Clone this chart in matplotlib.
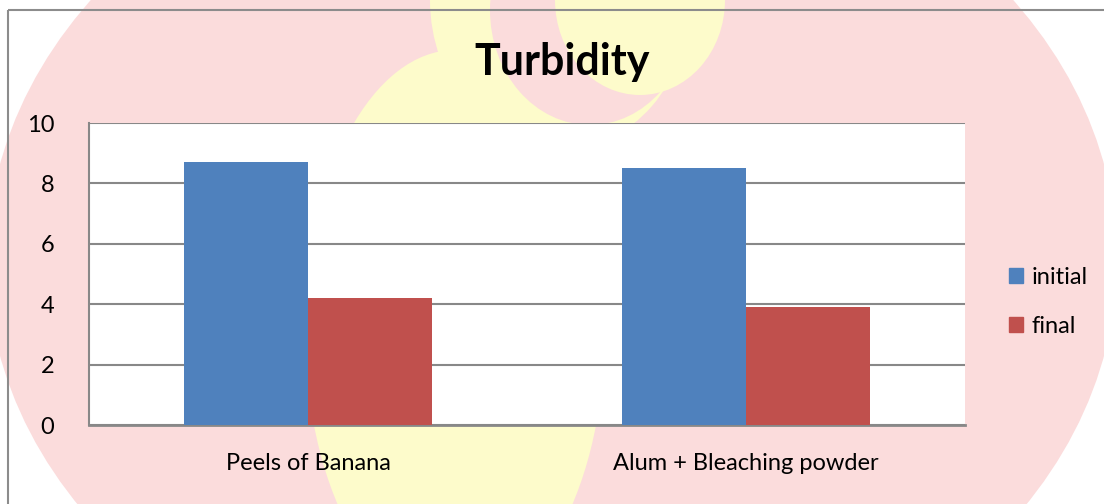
import matplotlib
matplotlib.use("Agg")
import matplotlib.pyplot as plt
import numpy as np
from matplotlib.patches import Ellipse, Rectangle, Patch

categories = ["Peels of Banana", "Alum + Bleaching powder"]
series_names = ["initial", "final"]
initial = [8.7, 8.5]
final = [4.2, 3.9]
yticks = [0, 2, 4, 6, 8, 10]
colors = ["#4F81BD", "#C0504D"]

plt.rcParams['font.family'] = ['Lato', 'DejaVu Sans']

W, H = 1104, 504
fig = plt.figure(figsize=(W / 100, H / 100), dpi=100)
fig.patch.set_facecolor("white")

def fx(px):
    return px / W

def fy(py):
    return 1 - py / H

# faint watermark-like background (decoration)
bg = fig.add_axes([0, 0, 1, 1], zorder=-10)
bg.set_xlim(0, W)
bg.set_ylim(H, 0)
bg.axis("off")
bg.add_patch(Ellipse((552, 260), 1130, 900, color="#fbdcdc", lw=0))
bg.add_patch(Ellipse((455, 330), 300, 560, color="#fdfbcb", lw=0))
bg.add_patch(Ellipse((560, 0), 260, 300, color="#fdfbcb", lw=0))
bg.add_patch(Ellipse((590, 10), 200, 230, color="#fbdcdc", lw=0))
bg.add_patch(Ellipse((640, 0), 170, 190, color="#fdfbcb", lw=0))
bg.add_patch(Rectangle((8, 10), W, H, fill=False, ec="#8c8c8c", lw=1.5))

ax = fig.add_axes([fx(89), fy(425), fx(965) - fx(89), fy(123) - fy(425)])
ax.set_facecolor("white")
x = np.arange(len(categories))
bw = 0.284
ax.bar(x - bw / 2, initial, bw, color=colors[0], label=series_names[0], zorder=3)
ax.bar(x + bw / 2, final, bw, color=colors[1], label=series_names[1], zorder=3)

ax.set_xlim(-0.5, len(categories) - 0.5)
ax.set_ylim(0, 10)
ax.set_yticks(yticks)
ax.set_yticklabels([str(v) for v in yticks], fontsize=17)
ax.set_xticks(x)
ax.set_xticklabels(categories, fontsize=17)
ax.tick_params(axis="y", length=0, pad=25)
ax.tick_params(axis="x", length=0, pad=20)
ax.yaxis.grid(True, color="#888888", lw=1.5, zorder=0)
ax.set_axisbelow(True)
for s in ["top", "right"]:
    ax.spines[s].set_visible(False)
ax.spines["left"].set_color("#888888")
ax.spines["bottom"].set_color("#888888")
ax.spines["left"].set_linewidth(1.5)
ax.spines["bottom"].set_linewidth(2)

fig.text(fx(562), fy(62), "Turbidity", fontsize=31, fontweight="bold",
         ha="center", va="center")

handles = [Patch(color=c) for c in colors]
fig.legend(handles, series_names, loc="center left",
           bbox_to_anchor=(fx(988), fy(302)), frameon=False, fontsize=17,
           handlelength=0.6, handleheight=0.6, handletextpad=0.35,
           labelspacing=1.2)

fig.savefig("out.png", dpi=100)
